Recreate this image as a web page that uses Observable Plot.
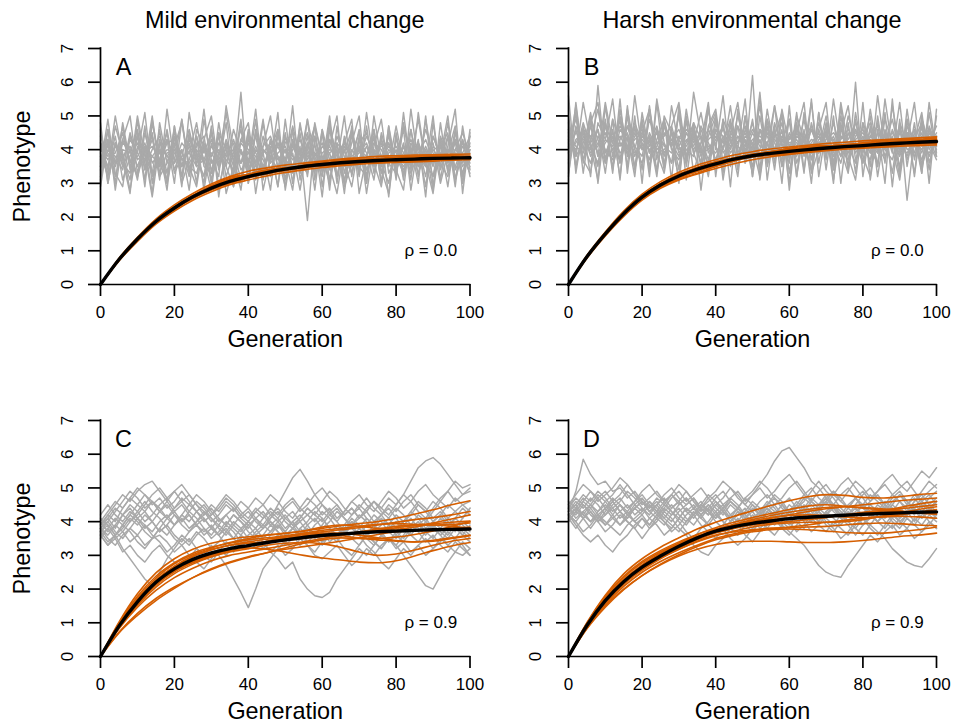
<!DOCTYPE html>
<html><head><meta charset="utf-8">
<script src="https://cdn.jsdelivr.net/npm/d3@7"></script>
<script src="https://cdn.jsdelivr.net/npm/@observablehq/plot@0.6"></script>
<style>
body{margin:0;background:#fff}
#fig{position:relative;width:954px;height:723px;background:#fff;font-family:"Liberation Sans",Arial,Helvetica,sans-serif;overflow:hidden}
.title{position:absolute;top:8.5px;font-size:23.4px;line-height:23.4px;transform:translateX(-50%);white-space:nowrap;color:#000}
#fig svg{position:absolute;max-width:none}
</style></head><body><div id="fig"></div>
<script>
const columnTitles = ["Mild environmental change", "Harsh environmental change"];
const panelLetters = ["A", "B", "C", "D"];
const rhoLabels = ["ρ = 0.0", "ρ = 0.0", "ρ = 0.9", "ρ = 0.9"];
const xLabel = "Generation";
const yLabel = "Phenotype";
const xTicks = [0, 20, 40, 60, 80, 100];
const yTicks = [0, 1, 2, 3, 4, 5, 6, 7];

// Mean trajectories (every 5 generations)
const blackA = [0,0.74,1.35,1.87,2.27,2.6,2.86,3.06,3.2,3.32,3.42,3.5,3.56,3.61,3.65,3.68,3.7,3.72,3.74,3.75,3.76];
const blackB = [0,0.82,1.5,2.1,2.59,2.95,3.22,3.42,3.58,3.72,3.82,3.89,3.95,4.0,4.05,4.09,4.12,4.16,4.19,4.22,4.24];
const blackC = [0,0.9,1.62,2.2,2.6,2.88,3.07,3.2,3.29,3.38,3.46,3.53,3.59,3.63,3.67,3.7,3.72,3.74,3.76,3.77,3.78];
const blackD = [0,0.92,1.66,2.22,2.65,2.98,3.27,3.52,3.72,3.85,3.95,4.02,4.09,4.13,4.16,4.19,4.22,4.24,4.26,4.28,4.29];

// Replicate trajectories (every 5 generations)
const orangeA = [
[0,.76,1.37,1.9,2.3,2.64,2.92,3.12,3.26,3.36,3.45,3.52,3.58,3.62,3.67,3.7,3.72,3.73,3.76,3.78,3.77],
[0,.72,1.32,1.84,2.24,2.55,2.8,3.0,3.16,3.3,3.4,3.47,3.55,3.6,3.62,3.66,3.69,3.71,3.73,3.74,3.75],
[0,.75,1.36,1.88,2.29,2.63,2.9,3.14,3.24,3.34,3.44,3.53,3.6,3.66,3.7,3.74,3.78,3.8,3.8,3.79,3.8],
[0,.73,1.33,1.85,2.26,2.58,2.84,3.02,3.18,3.28,3.38,3.46,3.52,3.56,3.6,3.62,3.63,3.65,3.7,3.72,3.74],
[0,.74,1.35,1.88,2.28,2.62,2.93,3.18,3.26,3.35,3.44,3.5,3.57,3.63,3.66,3.7,3.74,3.76,3.77,3.76,3.78],
[0,.73,1.34,1.86,2.25,2.57,2.82,3.04,3.2,3.33,3.41,3.49,3.53,3.58,3.63,3.66,3.66,3.68,3.71,3.73,3.72],
[0,.75,1.36,1.87,2.27,2.61,2.87,3.08,3.22,3.33,3.43,3.52,3.58,3.64,3.69,3.72,3.73,3.76,3.78,3.8,3.79],
[0,.72,1.33,1.86,2.27,2.59,2.85,3.05,3.19,3.31,3.43,3.49,3.54,3.59,3.64,3.69,3.71,3.7,3.72,3.74,3.77],
[0,.78,1.4,1.94,2.36,2.7,2.98,3.2,3.36,3.46,3.54,3.6,3.66,3.72,3.76,3.8,3.82,3.84,3.85,3.86,3.87],
[0,.7,1.28,1.79,2.18,2.5,2.75,2.96,3.1,3.22,3.32,3.4,3.47,3.52,3.57,3.6,3.62,3.65,3.67,3.69,3.7],
[0,.74,1.36,1.9,2.3,2.62,2.88,3.06,3.18,3.3,3.42,3.54,3.64,3.7,3.72,3.7,3.66,3.64,3.66,3.7,3.74],
[0,.73,1.34,1.85,2.24,2.58,2.86,3.1,3.28,3.4,3.47,3.5,3.52,3.56,3.62,3.68,3.74,3.8,3.83,3.82,3.8]];
const orangeB = [
[0,.84,1.53,2.14,2.62,2.98,3.26,3.46,3.62,3.76,3.86,3.93,3.99,4.04,4.1,4.14,4.16,4.2,4.24,4.27,4.3],
[0,.8,1.47,2.06,2.54,2.88,3.12,3.3,3.5,3.66,3.78,3.84,3.88,3.93,4.0,4.05,4.08,4.12,4.15,4.18,4.2],
[0,.83,1.52,2.12,2.6,2.97,3.24,3.44,3.6,3.74,3.85,3.92,4.0,4.06,4.11,4.15,4.19,4.22,4.26,4.3,4.36],
[0,.81,1.49,2.08,2.57,2.92,3.18,3.36,3.55,3.7,3.8,3.86,3.92,3.96,4.0,4.04,4.08,4.12,4.14,4.16,4.18],
[0,.83,1.51,2.13,2.63,2.99,3.27,3.45,3.6,3.73,3.84,3.92,3.98,4.03,4.08,4.12,4.15,4.18,4.22,4.24,4.26],
[0,.82,1.5,2.1,2.58,2.94,3.2,3.4,3.56,3.7,3.82,3.9,3.97,4.02,4.06,4.1,4.14,4.18,4.2,4.23,4.24],
[0,.8,1.48,2.09,2.58,2.95,3.21,3.41,3.59,3.73,3.83,3.87,3.93,3.99,4.03,4.07,4.1,4.14,4.17,4.2,4.22],
[0,.84,1.52,2.11,2.6,2.96,3.24,3.44,3.61,3.75,3.86,3.94,4.0,4.05,4.08,4.11,4.16,4.2,4.25,4.28,4.33],
[0,.86,1.56,2.18,2.68,3.05,3.33,3.54,3.7,3.84,3.94,4.02,4.08,4.13,4.18,4.22,4.26,4.29,4.32,4.35,4.38],
[0,.78,1.44,2.02,2.5,2.85,3.1,3.28,3.44,3.58,3.7,3.79,3.86,3.92,3.97,4.01,4.04,4.07,4.1,4.12,4.14],
[0,.82,1.5,2.1,2.56,2.9,3.16,3.36,3.52,3.68,3.82,3.94,4.04,4.1,4.12,4.1,4.08,4.1,4.16,4.22,4.28],
[0,.81,1.49,2.1,2.6,2.98,3.26,3.48,3.64,3.74,3.8,3.84,3.9,3.97,4.04,4.12,4.2,4.26,4.3,4.31,4.3]];
const orangeC = [
[0,.95,1.72,2.32,2.75,3.02,3.22,3.38,3.5,3.6,3.66,3.72,3.8,3.88,3.94,4.0,4.1,4.22,4.35,4.5,4.62],
[0,.72,1.28,1.72,2.06,2.34,2.58,2.78,2.94,3.08,3.22,3.36,3.46,3.52,3.5,3.46,3.42,3.4,3.45,3.52,3.6],
[0,.9,1.62,2.18,2.56,2.82,3.0,3.14,3.22,3.18,3.1,3.0,2.92,2.86,2.8,2.78,2.84,2.98,3.14,3.28,3.38],
[0,1.02,1.86,2.48,2.9,3.18,3.36,3.48,3.55,3.6,3.65,3.72,3.84,3.9,3.86,3.8,3.78,3.84,3.96,4.08,4.2],
[0,.85,1.52,2.06,2.46,2.74,2.96,3.12,3.28,3.42,3.54,3.62,3.66,3.66,3.6,3.52,3.44,3.4,3.42,3.5,3.58],
[0,.92,1.66,2.25,2.66,2.96,3.16,3.3,3.4,3.48,3.56,3.64,3.7,3.76,3.82,3.9,3.98,4.06,4.12,4.2,4.3],
[0,.82,1.46,1.96,2.34,2.62,2.84,3.0,3.1,3.2,3.3,3.4,3.5,3.6,3.7,3.78,3.86,3.9,3.94,3.98,4.02],
[0,.88,1.6,2.14,2.52,2.78,2.96,3.1,3.2,3.3,3.36,3.38,3.34,3.24,3.1,3.0,3.04,3.16,3.3,3.42,3.5],
[0,.98,1.78,2.38,2.78,3.06,3.24,3.36,3.46,3.52,3.58,3.66,3.74,3.8,3.86,3.92,3.94,3.92,3.9,3.92,3.96],
[0,.7,1.22,1.66,2.02,2.34,2.6,2.8,2.96,3.08,3.18,3.26,3.34,3.42,3.52,3.62,3.7,3.74,3.76,3.8,3.84],
[0,.93,1.68,2.26,2.68,2.98,3.18,3.3,3.36,3.4,3.44,3.5,3.56,3.6,3.66,3.74,3.82,3.88,3.9,3.86,3.8],
[0,.87,1.56,2.12,2.52,2.8,3.02,3.18,3.3,3.4,3.5,3.58,3.62,3.58,3.52,3.5,3.54,3.62,3.72,3.86,4.0]];
const orangeD = [
[0,1.0,1.82,2.45,2.9,3.24,3.52,3.78,3.98,4.16,4.32,4.48,4.62,4.74,4.8,4.78,4.72,4.7,4.74,4.8,4.84],
[0,.84,1.5,2.0,2.4,2.72,2.98,3.18,3.32,3.4,3.42,3.42,3.4,3.38,3.38,3.4,3.44,3.5,3.56,3.6,3.66],
[0,.94,1.7,2.28,2.72,3.06,3.36,3.62,3.82,3.98,4.12,4.24,4.36,4.46,4.5,4.46,4.4,4.36,4.38,4.44,4.5],
[0,.88,1.58,2.14,2.56,2.9,3.18,3.42,3.6,3.7,3.76,3.8,3.84,3.9,3.98,4.04,4.1,4.14,4.16,4.14,4.1],
[0,.96,1.74,2.34,2.78,3.1,3.36,3.56,3.72,3.86,3.98,4.1,4.2,4.3,4.38,4.44,4.5,4.56,4.62,4.66,4.7],
[0,.86,1.54,2.08,2.5,2.82,3.08,3.3,3.5,3.64,3.74,3.8,3.82,3.84,3.86,3.9,3.94,3.96,3.94,3.9,3.88],
[0,.92,1.66,2.24,2.68,3.02,3.3,3.54,3.74,3.9,4.02,4.12,4.18,4.2,4.18,4.14,4.12,4.14,4.2,4.28,4.36],
[0,.9,1.62,2.18,2.6,2.92,3.18,3.4,3.58,3.72,3.84,3.92,3.96,3.98,3.98,4.0,4.06,4.16,4.26,4.36,4.44],
[0,.98,1.78,2.38,2.82,3.14,3.4,3.62,3.78,3.9,4.0,4.06,4.1,4.12,4.14,4.18,4.24,4.32,4.42,4.52,4.6],
[0,.82,1.46,1.98,2.4,2.74,3.02,3.26,3.46,3.6,3.7,3.76,3.78,3.76,3.72,3.68,3.66,3.66,3.7,3.76,3.84],
[0,.93,1.68,2.26,2.7,3.04,3.32,3.56,3.76,3.92,4.06,4.18,4.28,4.36,4.42,4.44,4.42,4.38,4.32,4.26,4.22],
[0,.88,1.6,2.16,2.6,2.94,3.22,3.46,3.66,3.8,3.9,3.96,4.0,4.06,4.12,4.2,4.28,4.32,4.3,4.26,4.24]];

// Environmental optimum trajectories (every 2 generations)
const greyA = [
[3.6,4.3,3.2,4.0,3.9,4.6,3.4,3.8,4.1,3.0,4.4,3.7,3.9,4.8,3.5,3.3,4.2,3.8,4.0,3.6,4.5,3.1,3.9,4.2,3.7,4.0,3.4,4.7,3.8,3.5,4.1,3.9,3.2,4.3,3.6,4.0,3.8,4.4,3.3,3.9,4.1,3.7,4.6,3.5,3.8,4.2,3.0,3.9,4.3,3.6,4.0],
[4.1,3.5,4.4,3.1,3.8,4.2,3.6,5.0,3.3,3.9,4.0,3.2,4.5,3.7,4.1,3.4,3.8,5.1,3.6,3.0,4.3,3.9,3.5,4.1,2.9,4.4,3.8,3.6,4.2,3.3,4.6,3.7,4.0,3.1,3.9,4.5,3.4,3.8,4.2,3.6,3.3,4.7,3.9,3.5,4.0,3.2,4.4,3.8,3.5,4.1,3.7],
[3.8,3.3,4.7,3.9,2.8,4.1,3.7,4.3,3.5,4.6,3.4,4.0,3.2,4.2,3.9,4.5,2.9,3.8,4.3,3.6,3.9,4.4,3.3,4.0,4.6,3.5,3.9,2.8,4.2,3.7,3.4,4.8,3.6,4.0,3.3,4.3,3.9,3.1,4.5,3.7,4.0,3.4,3.8,4.9,3.6,3.2,4.1,4.5,3.1,3.9,4.4],
[4.4,3.9,3.5,4.2,4.0,3.1,4.5,3.6,3.9,4.3,3.7,4.9,3.5,3.3,4.1,3.8,4.4,3.2,3.9,4.6,3.4,4.0,3.7,3.2,4.4,3.9,4.1,3.6,3.3,4.7,3.8,3.0,4.2,3.9,4.6,3.5,3.2,4.0,3.8,4.4,3.6,4.1,3.3,3.9,4.3,3.7,3.5,4.8,3.4,3.9,3.5],
[3.2,4.0,3.8,3.4,4.5,3.7,3.9,2.6,4.2,3.8,4.1,3.5,4.3,3.9,3.0,4.6,3.6,3.9,4.2,3.4,3.7,3.3,4.8,3.6,3.9,4.1,3.5,4.0,3.7,4.4,3.3,3.9,4.1,3.6,2.9,4.2,4.5,3.7,3.5,4.0,3.8,3.3,4.2,3.7,4.6,3.9,3.6,3.2,4.0,4.5,3.8],
[4.0,3.7,4.1,3.6,3.3,4.4,3.9,4.1,3.7,4.5,3.3,3.8,4.6,3.6,4.0,3.9,3.5,4.3,3.7,4.0,3.2,4.5,4.0,3.8,3.4,4.2,4.5,3.3,3.9,4.1,3.6,4.3,3.8,3.5,4.0,3.7,4.4,3.9,3.6,3.0,4.3,3.9,3.5,4.1,3.2,4.4,3.8,4.0,3.7,4.3,3.2],
[3.5,4.6,3.6,4.3,3.7,3.2,4.0,4.4,3.2,3.6,4.2,3.9,3.4,4.1,4.4,3.1,3.9,4.0,3.3,4.2,3.9,3.6,4.1,4.4,3.8,3.3,4.0,4.3,3.6,3.8,4.2,3.5,2.7,4.1,3.8,4.0,3.6,4.2,4.0,3.5,4.7,3.6,4.0,3.3,3.9,4.0,3.7,4.4,3.9,3.3,4.2],
[3.9,3.2,4.2,3.7,4.3,3.9,3.5,4.0,4.4,3.8,3.6,4.2,3.9,3.5,3.7,4.3,3.9,3.5,4.6,3.9,3.6,4.1,3.5,3.9,4.2,3.7,4.7,3.8,4.0,3.4,3.9,4.1,3.6,3.7,4.4,3.6,4.1,3.5,4.3,3.8,3.5,4.1,3.7,3.6,4.1,3.5,4.2,3.6,4.0,3.8,4.1],
[4.2,3.8,3.9,4.5,3.5,3.8,4.2,3.3,3.7,4.0,3.9,3.5,4.1,3.8,4.2,3.6,4.0,3.7,3.4,4.3,4.0,3.8,3.2,4.3,3.5,4.0,3.7,3.9,4.5,3.6,3.8,3.4,4.4,3.8,3.3,4.1,3.4,3.9,4.1,4.2,3.4,3.9,4.3,3.8,3.5,4.1,3.9,3.5,3.8,4.2,3.6],
[3.7,4.1,3.6,3.8,4.1,3.5,4.1,3.8,3.6,4.2,4.3,3.7,3.6,4.0,3.6,4.1,3.7,4.2,3.8,3.6,4.2,3.5,4.0,3.7,4.1,3.6,4.2,3.5,4.1,3.9,3.7,4.0,3.9,4.2,3.7,3.9,4.2,3.6,3.7,4.1,3.9,3.5,3.9,4.2,3.7,3.6,4.1,3.7,4.2,3.5,3.9],
[3.4,4.2,3.0,4.8,3.6,4.4,3.1,4.9,3.6,3.1,4.7,3.2,4.4,3.5,5.2,3.3,4.5,2.7,3.5,5.7,3.0,4.6,3.4,4.0,2.9,4.9,3.3,4.1,1.9,4.4,3.5,5.0,3.2,4.2,4.9,2.7,3.8,4.6,3.0,4.7,3.1,5.1,3.4,4.3,2.6,4.8,3.4,4.1,5.2,2.7,4.5],
[4.8,3.0,4.2,3.5,4.0,3.2,4.7,3.0,4.3,3.3,4.6,3.0,3.7,4.4,2.8,4.2,3.5,4.8,2.9,4.0,3.5,4.9,2.8,3.8,4.5,3.1,4.3,3.6,4.4,2.8,4.6,3.1,4.2,2.7,4.5,3.2,4.7,3.3,4.4,2.6,4.5,3.2,4.1,3.0,5.0,2.9,4.3,3.4,4.6,3.0,4.4],
[3.1,4.6,2.8,4.3,5.0,3.3,4.1,2.7,4.8,3.6,4.4,2.9,5.1,3.8,3.2,4.7,2.6,4.2,3.5,4.9,3.0,4.5,3.9,2.8,4.6,3.4,5.3,3.1,4.0,4.7,2.9,4.3,3.6,5.0,3.2,4.4,2.7,4.1,4.9,3.3,3.8,4.6,2.8,4.2,3.5,5.0,3.1,4.4,2.9,4.7,3.4],
[4.6,3.0,4.2,3.7,2.7,4.9,3.4,4.5,3.1,5.2,3.6,4.0,2.8,4.6,4.1,3.0,4.8,3.5,2.9,4.3,4.8,3.2,4.4,3.6,5.1,2.8,4.2,3.7,4.9,3.1,4.5,2.8,4.7,3.3,4.2,5.0,3.0,4.6,3.4,2.7,4.4,3.1,5.2,3.6,4.0,2.8,4.8,3.3,4.3,3.0,4.6],
[3.5,4.9,3.3,2.9,4.4,3.9,5.1,3.2,4.0,2.8,4.7,3.5,4.2,3.0,4.9,3.7,3.2,5.3,4.0,3.1,4.6,2.7,4.1,5.0,3.4,4.5,3.0,4.8,3.5,4.2,2.6,4.6,3.9,3.0,4.7,3.3,5.1,3.6,2.9,4.5,3.2,4.8,3.5,4.1,2.9,4.4,3.8,5.0,3.1,4.3,3.7],
[4.2,3.4,5.0,3.8,3.1,4.5,2.9,4.8,3.6,4.3,3.0,4.9,3.3,4.4,3.7,2.8,4.5,4.0,3.2,4.8,3.6,5.2,3.1,4.3,3.8,2.9,4.6,3.3,4.9,3.8,3.2,4.7,3.0,4.4,3.5,4.1,3.0,5.0,3.7,4.2,3.4,2.8,4.6,3.2,4.9,3.6,4.1,2.9,4.5,3.8,3.3],
[2.9,4.3,3.6,4.7,3.4,5.0,3.8,3.3,4.6,3.0,4.1,4.8,3.5,2.9,4.3,5.0,3.4,4.1,3.7,2.8,4.4,3.6,4.9,3.3,4.2,3.7,2.8,4.5,3.2,4.8,3.7,4.1,5.0,2.9,3.6,4.6,3.2,4.4,3.0,4.7,3.5,4.2,3.1,5.1,3.6,2.7,4.3,3.9,4.7,3.2,4.0]];
const greyB = [
[4.5,3.9,4.8,4.1,3.6,4.7,4.2,5.0,3.8,4.4,4.6,3.5,4.3,4.9,4.0,3.7,4.5,4.2,5.1,3.9,4.3,4.7,3.6,4.4,4.1,4.8,3.8,4.2,4.6,3.5,4.4,4.0,4.9,3.7,4.3,4.5,3.9,4.7,4.1,3.6,4.8,4.2,3.9,4.5,4.0,4.6,3.7,4.3,4.8,4.0,4.4],
[4.0,4.6,3.7,4.3,5.2,3.9,4.4,3.6,4.7,4.1,3.8,4.9,4.2,3.6,4.5,4.3,3.8,4.6,3.5,4.4,5.0,3.9,4.2,4.7,3.6,4.1,5.3,3.9,4.0,4.8,3.7,4.5,4.1,3.4,4.6,4.0,4.4,3.8,5.0,4.2,3.6,4.4,4.7,3.8,4.3,3.5,4.9,4.1,3.7,4.5,4.2],
[4.8,3.5,4.4,4.0,4.6,3.3,4.9,4.2,3.9,4.5,4.0,4.3,3.4,4.7,4.1,5.0,3.7,4.4,4.0,3.6,4.6,4.2,4.9,3.8,4.3,3.5,4.6,4.4,3.9,4.2,4.9,3.6,4.3,4.7,3.9,4.2,3.5,4.6,4.3,4.8,4.0,3.7,4.5,4.2,4.9,3.9,4.1,4.6,3.5,4.2,4.7],
[4.2,4.9,4.1,3.6,4.4,4.0,3.7,4.6,4.3,3.5,4.8,4.1,4.5,3.9,4.3,4.6,4.0,3.8,4.7,4.2,3.7,4.4,4.0,5.0,4.2,3.9,4.3,3.6,4.8,4.1,4.3,4.7,3.8,4.2,4.5,3.8,4.8,4.0,3.7,4.4,4.6,4.0,3.6,4.9,4.2,4.3,3.8,4.5,4.1,3.9,4.3],
[3.7,4.3,4.5,3.9,4.1,4.8,3.5,4.3,4.7,4.0,3.6,4.5,4.0,4.2,3.6,4.3,4.8,3.9,4.2,4.6,4.1,3.5,4.5,4.2,4.7,3.8,4.0,4.9,4.2,3.7,4.5,4.1,4.4,3.9,4.0,4.7,4.2,3.6,4.5,3.9,4.3,4.8,4.1,3.7,4.6,4.0,4.4,3.9,4.7,4.3,3.8],
[4.4,4.1,3.9,4.7,3.8,4.2,4.5,3.9,4.1,4.8,4.2,3.7,4.6,4.1,3.9,4.4,4.1,4.5,3.8,4.3,4.5,4.0,4.7,3.9,4.4,4.2,3.7,4.5,4.3,4.0,3.8,4.4,4.2,4.6,4.0,4.3,4.5,4.2,3.9,4.6,4.1,4.4,4.3,4.0,3.7,4.5,4.2,3.8,4.4,4.6,4.0],
[4.1,4.5,4.3,4.2,4.6,3.7,4.0,4.4,4.0,4.3,4.5,3.9,4.2,4.4,4.7,3.9,4.3,4.0,4.4,4.1,3.9,4.3,4.4,4.1,3.9,4.5,4.1,4.0,4.4,4.5,4.1,3.8,4.5,4.1,4.4,3.9,4.1,4.4,4.2,4.0,4.4,3.9,4.2,4.3,4.5,4.1,3.9,4.3,4.0,4.4,4.2],
[3.9,4.2,4.6,4.4,3.9,4.3,4.1,4.7,4.4,3.9,4.1,4.4,3.9,4.0,4.3,4.1,4.6,4.3,3.9,4.0,4.4,4.2,4.1,4.4,4.0,4.3,4.4,4.2,3.8,4.3,4.4,4.2,4.0,4.3,4.2,4.4,4.0,4.3,4.6,4.2,4.0,4.3,4.1,4.4,4.2,3.9,4.5,4.2,4.3,4.1,4.5],
[4.6,3.8,4.2,4.9,4.3,3.6,4.4,4.1,4.5,3.8,4.4,4.2,4.7,3.8,4.5,4.0,4.2,4.8,4.3,3.7,4.6,4.4,3.9,4.2,4.5,4.0,4.6,3.8,4.5,4.3,4.0,4.6,4.3,3.9,4.8,4.2,4.3,3.8,4.1,4.5,4.3,3.9,4.8,4.1,4.3,3.8,4.5,4.4,3.9,4.6,4.1],
[4.3,4.0,4.5,3.8,4.2,4.5,4.0,4.2,3.9,4.6,4.3,4.0,4.1,4.5,4.2,3.8,4.5,4.1,4.6,4.0,4.2,4.6,4.3,3.7,4.1,4.6,4.2,4.7,4.0,4.4,4.2,4.3,3.9,4.6,4.1,4.5,3.8,4.4,4.2,4.3,4.5,4.1,4.0,4.4,4.1,4.7,4.0,4.1,4.5,3.8,4.4],
[5.6,3.3,4.7,3.2,5.9,3.6,4.9,3.1,5.3,3.4,4.8,3.2,5.4,3.5,4.6,3.0,5.0,3.3,4.2,5.4,3.2,4.9,2.9,5.2,3.6,6.2,3.1,4.7,3.4,5.1,2.8,4.8,3.3,5.5,3.2,4.6,3.0,5.3,3.4,6.0,3.2,4.7,3.5,5.1,2.9,4.9,2.5,4.4,3.3,5.4,3.9],
[3.2,5.4,3.6,5.0,3.0,4.8,3.4,5.5,3.3,5.0,3.0,5.2,3.3,4.9,3.1,5.3,3.5,4.8,2.8,4.6,5.1,3.3,4.8,3.4,5.0,3.2,5.6,3.1,4.7,3.0,5.3,3.2,4.6,3.0,5.1,3.4,5.0,3.0,4.8,3.3,5.4,3.1,4.6,3.0,5.5,3.3,4.9,3.2,5.0,3.0,5.2],
[3.6,5.1,3.3,4.8,5.4,3.7,4.6,3.2,5.2,4.0,4.9,3.4,5.5,4.2,3.6,5.1,3.1,4.7,3.9,5.3,3.5,4.9,4.3,3.2,5.0,3.8,5.7,3.5,4.4,5.1,3.3,4.7,4.0,5.4,3.6,4.8,3.1,4.5,5.3,3.7,4.2,5.0,3.2,4.6,3.9,5.4,3.5,4.8,3.3,5.1,3.8],
[5.0,3.5,4.6,4.1,3.1,5.3,3.8,4.9,3.5,5.6,4.0,4.4,3.2,5.0,4.5,3.4,5.2,3.9,3.3,4.7,5.2,3.6,4.8,4.0,5.5,3.2,4.6,4.1,5.3,3.5,4.9,3.2,5.1,3.7,4.6,5.4,3.4,5.0,3.8,3.1,4.8,3.5,5.6,4.0,4.4,3.2,5.2,3.7,4.7,3.4,5.0],
[3.9,5.3,3.7,3.3,4.8,4.3,5.5,3.6,4.4,3.2,5.1,3.9,4.6,3.4,5.3,4.1,3.6,5.7,4.4,3.5,5.0,3.1,4.5,5.4,3.8,4.9,3.4,5.2,3.9,4.6,3.0,5.0,4.3,3.4,5.1,3.7,5.5,4.0,3.3,4.9,3.6,5.2,3.9,4.5,3.3,4.8,4.2,5.4,3.5,4.7,4.1],
[4.6,3.8,5.4,4.2,3.5,4.9,3.3,5.2,4.0,4.7,3.4,5.3,3.7,4.8,4.1,3.2,4.9,4.4,3.6,5.2,4.0,5.6,3.5,4.7,4.2,3.3,5.0,3.7,5.3,4.2,3.6,5.1,3.4,4.8,3.9,4.5,3.4,5.4,4.1,4.6,3.8,3.2,5.0,3.6,5.3,4.0,4.5,3.3,4.9,4.2,3.7],
[3.3,4.7,4.0,5.1,3.8,5.4,4.2,3.7,5.0,3.4,4.5,5.2,3.9,3.3,4.7,5.4,3.8,4.5,4.1,3.2,4.8,4.0,5.3,3.7,4.6,4.1,3.2,4.9,3.6,5.2,4.1,4.5,5.4,3.3,4.0,5.0,3.6,4.8,3.4,5.1,3.9,4.6,3.5,5.5,4.0,3.1,4.7,4.3,5.1,3.6,4.4]];
const greyC = [
[3.8,3.6,3.9,3.7,3.4,3.6,3.3,3.5,3.6,3.4,3.1,3.3,3.5,3.2,3.0,3.3,3.0,2.7,2.3,1.9,1.45,2.0,2.6,2.9,3.2,3.4,3.6,3.3,3.5,3.7,3.4,3.6,3.9,3.7,4.0,3.8,4.1,3.9,3.6,3.8,4.0,3.7,3.9,4.2,4.0,3.8,4.1,3.9,3.7,4.0,3.8],
[3.9,4.1,3.8,4.2,4.4,4.1,4.3,4.6,4.4,4.1,4.3,4.0,4.2,3.9,3.7,3.9,3.6,3.8,3.5,3.3,3.5,3.2,3.4,3.1,2.9,2.6,2.8,2.3,2.0,1.8,1.75,1.9,2.3,2.6,2.9,3.2,3.0,3.3,3.6,3.4,3.7,3.5,3.8,4.0,3.7,3.9,3.6,3.8,4.1,3.9,3.7],
[3.7,3.9,3.6,3.8,4.1,3.9,4.2,4.0,3.7,3.9,3.6,3.4,3.7,3.9,3.6,3.8,4.1,3.9,4.2,4.0,3.8,4.1,3.9,3.7,4.0,4.2,3.9,4.1,4.4,4.2,4.0,4.3,4.5,4.2,4.4,4.1,4.3,4.6,4.4,4.7,4.5,4.8,5.2,5.6,5.8,5.9,5.7,5.4,5.1,4.8,4.9],
[3.8,4.0,3.7,3.5,3.8,3.6,3.9,3.7,4.0,4.2,3.9,4.1,3.8,4.0,4.3,4.1,3.9,4.2,4.4,4.1,4.3,4.0,3.8,4.1,4.5,4.9,5.3,5.55,5.2,4.8,4.5,4.2,4.4,4.1,3.9,4.2,4.0,3.7,3.9,4.1,3.8,4.0,4.3,4.1,3.8,4.0,4.2,3.9,4.1,4.4,4.2],
[3.9,4.2,4.5,4.8,4.6,4.9,5.1,5.2,4.9,4.6,4.3,4.5,4.2,3.9,4.1,3.8,3.6,3.9,3.7,3.4,3.6,3.8,3.5,3.7,3.9,3.6,3.8,4.0,3.7,3.5,3.7,3.4,3.6,3.8,3.5,3.3,3.6,3.4,3.2,3.5,3.3,3.0,2.7,2.4,2.1,2.0,2.4,2.8,3.1,3.4,3.2],
[3.7,3.4,3.6,3.2,2.9,2.6,2.3,2.1,2.5,2.9,3.2,3.5,3.3,3.6,3.8,3.5,3.7,4.0,3.8,3.6,3.9,4.1,3.8,4.0,3.7,3.5,3.8,3.6,3.9,4.1,3.8,4.0,4.3,4.1,3.8,3.6,3.9,4.2,4.0,3.7,3.5,3.8,3.6,3.9,4.1,3.8,3.6,3.3,3.5,3.8,3.6],
[4.0,4.3,4.6,4.4,4.7,5.0,4.8,4.5,4.7,4.4,4.6,4.9,4.6,4.3,4.5,4.2,4.4,4.7,4.5,4.2,4.0,4.3,4.5,4.8,4.6,4.3,4.1,4.4,4.7,4.5,4.2,4.4,4.1,4.3,4.6,4.8,4.5,4.3,4.6,4.9,4.7,4.4,4.6,4.9,5.1,4.8,4.6,4.9,5.2,5.0,5.1],
[3.6,3.3,3.5,3.1,3.3,3.0,2.8,3.1,3.3,3.0,2.8,2.6,2.9,3.2,3.0,2.8,3.1,3.4,3.2,3.5,3.3,3.6,3.4,3.1,3.3,3.0,3.2,3.5,3.3,3.0,2.9,3.1,3.3,3.0,2.7,2.9,3.2,3.0,3.3,3.5,3.2,3.4,3.1,3.3,3.0,3.2,3.5,3.3,3.1,3.0,3.2],
[3.8,4.1,4.4,4.2,4.5,4.3,4.0,4.2,4.5,4.7,4.4,4.6,4.3,4.1,3.8,3.6,3.9,3.7,3.5,3.8,4.0,4.3,4.1,4.4,4.2,4.5,4.7,4.4,4.2,4.0,4.3,4.1,3.8,3.6,3.9,4.1,4.4,4.6,4.3,4.1,4.4,4.2,3.9,3.7,4.0,4.3,4.6,4.4,4.7,4.5,4.3],
[3.6,3.8,3.5,3.7,4.0,4.2,4.5,4.8,5.0,4.7,4.9,4.6,4.8,4.5,4.2,4.4,4.1,3.9,4.2,4.0,3.7,3.5,3.2,3.4,3.6,3.3,3.5,3.8,3.6,3.9,4.1,3.8,3.6,3.9,4.2,4.4,4.1,3.9,3.7,3.4,3.6,3.9,4.1,3.8,3.6,3.9,3.7,3.5,3.8,3.6,3.4],
[4.0,3.7,3.9,4.2,4.0,4.3,4.6,4.3,4.1,3.8,3.5,3.3,3.0,2.8,2.6,2.9,3.2,3.0,3.3,3.6,3.4,3.7,3.9,4.2,4.4,4.1,3.9,3.6,3.8,3.5,3.3,3.6,3.4,3.7,3.9,3.6,3.3,3.1,2.8,2.6,2.9,3.2,3.0,3.3,3.5,3.2,3.4,3.7,3.5,3.3,3.0],
[3.9,4.2,4.0,4.4,4.7,4.5,4.8,4.6,4.3,4.6,4.9,5.1,4.8,4.5,4.3,4.0,4.2,4.5,4.3,4.6,4.4,4.1,4.3,4.0,3.8,4.1,4.3,4.0,4.2,4.4,4.6,4.9,4.7,4.4,4.2,4.5,4.3,4.0,4.2,3.9,3.7,4.0,4.2,4.5,4.3,4.6,4.4,4.1,4.3,4.5,4.6],
[3.5,3.8,4.1,3.9,4.2,4.5,4.3,4.0,3.7,3.9,4.2,4.0,4.3,4.6,4.4,4.1,3.8,3.6,3.9,4.2,4.4,4.7,4.5,4.2,4.0,3.7,3.5,3.8,4.0,4.3,4.1,3.8,3.5,3.7,4.0,3.8,3.5,3.3,3.6,3.9,4.2,4.0,4.3,4.6,4.4,4.1,4.3,4.0,3.8,4.1,4.4],
[4.1,3.9,3.6,3.9,3.7,3.4,3.2,3.5,3.8,3.6,3.9,4.2,4.0,4.3,4.1,3.8,3.6,3.3,3.1,3.4,3.2,3.5,3.3,3.6,3.9,3.7,4.0,4.2,3.9,3.6,3.4,3.7,3.5,3.2,3.0,3.3,3.6,3.8,4.1,3.9,3.6,3.4,3.7,3.9,3.7,3.5,3.8,4.1,3.9,3.6,3.9],
[3.7,4.0,4.3,4.6,4.9,4.7,4.4,4.6,4.3,4.1,3.9,4.2,4.5,4.3,4.0,4.2,4.5,4.8,4.6,4.3,4.1,4.4,4.2,3.9,4.1,4.4,4.6,4.3,4.5,4.8,5.0,4.7,4.5,4.2,4.4,4.1,4.3,4.6,4.4,4.2,4.5,4.8,4.6,4.3,4.1,4.4,4.7,4.9,4.6,4.8,5.0],
[3.8,3.5,3.3,3.6,3.8,4.1,3.9,3.6,3.4,3.1,3.3,3.6,3.4,3.7,3.5,3.2,3.4,3.7,4.0,3.8,3.5,3.3,3.6,3.9,3.7,3.4,3.2,3.5,3.3,3.1,3.4,3.7,3.5,3.8,4.1,3.9,3.7,3.4,3.2,3.5,3.3,3.6,3.9,3.7,3.4,3.6,3.3,3.1,3.4,3.2,3.0],
[4.2,4.5,4.2,4.0,4.3,4.1,3.8,4.0,4.3,4.5,4.2,3.9,3.7,4.0,4.2,4.5,4.3,4.6,4.4,4.1,3.9,3.6,3.8,4.1,4.3,4.0,3.8,4.1,4.4,4.2,4.5,4.3,4.0,4.3,4.6,4.4,4.7,4.4,4.2,4.5,4.3,4.6,4.8,4.5,4.3,4.0,4.2,4.5,4.3,4.1,4.4],
[3.6,3.3,3.6,3.9,4.2,4.0,3.7,3.5,3.8,4.1,4.4,4.7,4.5,4.8,4.6,4.3,4.0,4.2,3.9,3.7,4.0,3.8,4.1,4.3,4.1,3.8,4.0,3.7,3.4,3.6,3.9,4.2,4.0,3.7,3.5,3.8,3.6,3.9,4.2,4.4,4.1,3.8,3.6,3.4,3.7,4.0,3.8,3.6,3.9,3.7,3.5]];
const greyD = [
[4.3,4.9,5.85,5.4,5.1,5.2,4.9,5.0,4.7,4.9,4.6,4.4,4.7,4.5,4.8,4.6,4.3,4.5,4.2,4.4,4.1,4.3,4.6,4.4,4.2,4.5,4.3,4.0,4.2,4.5,4.3,4.1,4.4,4.2,4.5,4.7,4.4,4.2,4.0,4.3,4.5,4.2,4.4,4.1,4.3,4.6,4.4,4.2,4.5,4.3,4.1],
[4.2,4.0,4.3,4.5,4.2,4.4,4.1,3.9,4.2,4.4,4.6,4.3,4.5,4.2,4.0,4.3,4.5,4.7,4.4,4.6,4.8,4.5,4.7,4.9,4.6,4.8,5.1,5.4,5.8,6.1,6.2,5.9,5.6,5.2,5.0,4.7,4.9,4.6,4.4,4.7,4.5,4.8,4.6,4.4,4.7,4.9,4.6,4.4,4.6,4.8,4.5],
[4.4,4.1,4.3,4.0,4.2,3.9,4.1,4.3,4.0,3.8,4.1,3.9,4.2,4.0,3.7,3.9,4.2,4.4,4.1,3.9,4.2,4.0,3.8,4.1,3.9,3.7,4.0,3.8,3.6,3.9,3.7,3.5,3.3,3.0,2.7,2.5,2.4,2.35,2.7,3.0,3.3,3.6,3.4,3.7,3.9,3.6,3.8,4.1,3.9,4.2,4.0],
[4.3,4.6,4.4,4.7,4.5,4.2,4.4,4.6,4.9,4.7,4.4,4.2,4.5,4.7,4.4,4.6,4.3,4.1,4.4,4.2,4.5,4.3,4.0,4.2,4.4,4.1,4.3,4.6,4.4,4.1,4.3,4.5,4.2,4.0,4.3,4.1,3.9,4.2,4.0,3.8,4.1,3.9,3.7,3.5,3.2,3.0,2.8,2.7,2.65,2.9,3.2],
[4.2,3.9,3.6,3.4,3.6,3.3,3.1,3.4,3.6,3.9,4.1,3.8,4.0,4.3,4.1,3.8,3.6,3.3,3.1,3.0,3.3,3.5,3.8,3.6,3.9,4.1,3.8,4.0,4.3,4.1,3.9,4.2,4.4,4.1,3.9,3.7,4.0,3.8,3.6,3.9,4.1,3.8,3.6,3.9,4.2,4.0,3.8,3.5,3.7,4.0,3.8],
[4.5,4.8,5.1,4.9,4.6,4.8,5.0,5.3,5.1,4.8,4.5,4.7,4.9,4.6,4.8,5.1,4.9,4.6,4.4,4.7,4.9,5.2,5.0,4.7,4.5,4.8,5.0,4.7,4.9,5.2,5.4,5.1,4.8,4.6,4.9,5.1,4.8,4.6,4.9,5.2,5.0,4.7,4.9,5.2,5.4,5.1,4.9,5.2,5.5,5.3,5.6],
[4.1,4.4,4.2,4.5,4.8,4.6,4.3,4.5,4.2,4.0,3.8,4.1,4.3,4.6,4.8,4.5,4.7,4.4,4.2,3.9,3.7,3.9,4.2,4.4,4.7,4.9,5.2,5.0,4.7,4.5,4.2,4.0,3.8,4.1,4.3,4.0,3.8,3.5,3.7,4.0,4.2,4.5,4.3,4.6,4.4,4.1,4.3,4.6,4.8,4.5,4.7],
[4.4,4.2,4.5,4.3,4.0,4.2,4.5,4.7,4.4,4.6,4.9,5.1,4.8,4.6,4.3,4.1,4.4,4.2,3.9,3.7,3.5,3.8,4.0,4.3,4.1,4.4,4.2,4.5,4.7,4.4,4.2,4.5,4.8,5.0,4.7,4.5,4.8,5.1,5.3,5.0,4.7,4.4,4.2,4.5,4.3,4.0,4.2,4.4,4.1,4.3,4.6],
[4.0,4.3,4.1,3.8,4.1,4.4,4.6,4.3,4.5,4.2,4.4,4.1,3.9,3.6,3.8,4.1,3.9,4.2,4.5,4.3,4.6,4.4,4.1,3.9,3.6,3.4,3.7,3.9,4.2,4.0,4.3,4.6,4.4,4.1,4.4,4.6,4.9,4.7,4.4,4.2,4.5,4.3,4.0,4.2,4.5,4.3,4.5,4.8,4.6,4.4,4.2],
[4.3,4.5,4.8,4.6,4.9,4.7,4.4,4.1,4.3,4.0,4.2,4.5,4.2,4.4,4.7,4.9,4.6,4.8,5.0,4.7,4.4,4.2,4.5,4.3,4.0,3.8,4.1,4.4,4.2,4.5,4.7,4.4,4.6,4.9,5.2,4.9,4.7,4.4,4.2,4.5,4.8,5.0,4.7,4.5,4.2,4.4,4.1,3.9,4.2,4.4,4.1],
[4.2,4.0,3.7,3.9,4.2,4.0,3.8,3.6,3.9,4.1,4.3,4.6,4.4,4.1,3.9,3.7,4.0,4.2,4.5,4.3,4.0,3.8,3.5,3.3,3.5,3.8,4.0,4.3,4.5,4.2,4.0,3.7,3.9,4.2,4.0,4.3,4.5,4.3,4.0,3.8,3.6,3.9,4.2,4.4,4.1,3.9,4.2,4.4,4.7,4.9,5.1],
[4.5,4.3,4.6,4.9,4.7,4.4,4.7,4.5,4.2,4.5,4.7,4.4,4.6,4.3,4.5,4.2,4.0,4.3,4.1,4.4,4.7,4.9,4.6,4.4,4.7,4.5,4.2,4.4,4.1,3.9,4.1,4.4,4.7,4.5,4.3,4.6,4.3,4.1,4.4,4.7,4.9,4.6,4.8,4.5,4.8,5.0,5.2,4.9,4.6,4.4,4.6],
[4.0,4.3,4.6,4.4,4.1,3.9,4.2,4.5,4.3,4.6,4.8,4.5,4.3,4.0,3.8,4.1,4.4,4.2,4.5,4.8,4.6,4.3,4.1,4.4,4.2,3.9,4.2,4.5,4.3,4.0,3.8,4.1,4.3,4.6,4.4,4.2,4.5,4.3,4.0,4.2,3.9,4.1,4.4,4.2,4.5,4.8,4.6,4.3,4.1,4.4,4.6],
[4.4,4.7,4.5,4.2,4.0,3.7,3.9,4.2,4.0,3.8,3.5,3.8,4.1,3.9,4.2,4.4,4.1,3.9,4.2,4.5,4.3,4.0,3.8,3.6,3.9,4.2,4.0,4.3,4.1,3.8,3.6,3.9,4.2,4.4,4.2,3.9,3.7,4.0,4.3,4.1,3.9,4.2,4.5,4.3,4.0,3.8,4.1,3.9,3.7,3.9,4.2],
[4.6,4.4,4.1,4.4,4.7,4.9,4.6,4.8,5.1,4.8,4.6,4.3,4.5,4.8,5.0,4.7,4.5,4.7,4.4,4.2,4.5,4.7,5.0,4.8,4.5,4.3,4.6,4.8,4.5,4.7,5.0,5.2,4.9,4.6,4.4,4.7,4.5,4.8,5.0,4.7,4.4,4.6,4.9,5.1,4.8,4.6,4.3,4.6,4.9,5.2,5.0],
[4.1,3.8,4.1,4.3,4.0,4.3,4.6,4.3,4.1,4.4,4.2,3.9,4.2,4.5,4.3,4.0,3.7,3.5,3.8,4.0,4.3,4.5,4.2,4.0,4.3,4.6,4.4,4.1,3.9,4.2,4.5,4.3,4.0,3.7,3.9,4.2,4.4,4.1,3.9,3.6,3.9,4.2,4.0,3.8,4.1,4.4,4.2,4.5,4.3,4.0,3.8],
[4.3,4.5,4.2,4.0,4.3,4.6,4.8,5.1,4.8,4.5,4.3,4.6,4.3,4.1,4.4,4.6,4.9,4.6,4.3,4.5,4.2,4.4,4.7,4.5,4.2,4.0,4.3,4.5,4.8,4.6,4.3,4.1,4.4,4.7,4.5,4.8,4.5,4.2,4.5,4.7,4.4,4.2,4.0,4.3,4.6,4.8,4.5,4.7,4.4,4.7,4.9],
[4.2,4.4,4.7,4.5,4.3,4.5,4.2,3.9,4.1,4.4,4.6,4.3,4.1,4.4,4.2,4.5,4.7,4.4,4.6,4.3,4.1,4.4,4.6,4.4,4.1,4.3,4.0,3.8,4.1,4.3,4.0,4.2,4.5,4.3,4.0,4.3,4.1,3.9,4.2,4.4,4.2,4.5,4.3,4.0,3.8,4.1,4.3,4.0,4.3,4.5,4.3]];

const FONT = '"Liberation Sans", Arial, Helvetica, sans-serif';
const GREY = "#a9a9a9", ORANGE = "#d55e00";

function toRows(series) {
  return series.flatMap((s, k) => s.map((v, i) => ({gen: i * 100 / (s.length - 1), value: v, run: k})));
}

const panels = [
  {grey: greyA, orange: orangeA, black: blackA, left: 0,   top: 0,   height: 360, mt: 48, mb: 76, ml: 100, mr: 7.5, ylab: true},
  {grey: greyB, orange: orangeB, black: blackB, left: 477, top: 0,   height: 360, mt: 48, mb: 76, ml: 91,  mr: 18,  ylab: false},
  {grey: greyC, orange: orangeC, black: blackC, left: 0,   top: 360, height: 363, mt: 60, mb: 67, ml: 100, mr: 7.5, ylab: true},
  {grey: greyD, orange: orangeD, black: blackD, left: 477, top: 360, height: 363, mt: 60, mb: 67, ml: 91,  mr: 18,  ylab: false}
];

const fig = document.getElementById("fig");

columnTitles.forEach((t, j) => {
  const d = document.createElement("div");
  d.className = "title";
  d.textContent = t;
  d.style.left = (j === 0 ? 284.75 : 752) + "px";
  fig.appendChild(d);
});

panels.forEach((p, k) => {
  const marks = [
    Plot.line(toRows(p.grey), {x: "gen", y: "value", z: "run", stroke: GREY, strokeWidth: 1.45}),
    Plot.line(toRows(p.orange), {x: "gen", y: "value", z: "run", stroke: ORANGE, strokeWidth: 1.6, curve: "monotone-x"}),
    Plot.line(toRows([p.black]), {x: "gen", y: "value", z: "run", stroke: "black", strokeWidth: 3.4, curve: "monotone-x"}),
    Plot.ruleY([yTicks[0]], {x1: xTicks[0], x2: xTicks[xTicks.length - 1], stroke: "black", strokeWidth: 1.7, strokeLinecap: "square"}),
    Plot.ruleX([xTicks[0]], {y1: yTicks[0], y2: yTicks[yTicks.length - 1], stroke: "black", strokeWidth: 1.7, strokeLinecap: "square"}),
    Plot.axisX(xTicks, {anchor: "bottom", label: null, tickSize: 12, tickFormat: () => "", strokeWidth: 1.7}),
    Plot.axisY(yTicks, {anchor: "left", label: null, tickSize: 12, tickFormat: () => "", strokeWidth: 1.7}),
    Plot.text(xTicks, {x: d => d, frameAnchor: "bottom", dy: 27.7, text: d => String(d), fontSize: 17, lineAnchor: "middle", textAnchor: "middle", fill: "black"}),
    Plot.text(yTicks, {y: d => d, frameAnchor: "left", dx: -33, rotate: -90, text: d => String(d), fontSize: 17, lineAnchor: "middle", textAnchor: "middle", fill: "black"}),
    Plot.text([xLabel], {frameAnchor: "bottom", dy: 55, text: d => d, fontSize: 23.4, lineAnchor: "middle", textAnchor: "middle", fill: "black"}),
    Plot.text([panelLetters[k]], {frameAnchor: "top-left", dx: 23, dy: 18.6, text: d => d, fontSize: 23.4, lineAnchor: "middle", textAnchor: "middle", fill: "black"}),
    Plot.text([rhoLabels[k]], {frameAnchor: "bottom-right", dx: -39.2, dy: -34.4, text: d => d, fontSize: 17, lineAnchor: "middle", textAnchor: "middle", fill: "black"})
  ];
  if (p.ylab) marks.push(Plot.text([yLabel], {frameAnchor: "left", dx: -78, rotate: -90, text: d => d, fontSize: 23.4, lineAnchor: "middle", textAnchor: "middle", fill: "black"}));
  const svg = Plot.plot({
    width: 477, height: p.height,
    marginLeft: p.ml, marginRight: p.mr, marginTop: p.mt, marginBottom: p.mb,
    x: {domain: [0, 100], axis: null},
    y: {domain: [0, 7], axis: null},
    style: {fontFamily: FONT, fontSize: "17px", color: "black", background: "transparent", overflow: "visible"},
    marks
  });
  svg.style.left = p.left + "px";
  svg.style.top = p.top + "px";
  fig.appendChild(svg);
});
</script></body></html>
